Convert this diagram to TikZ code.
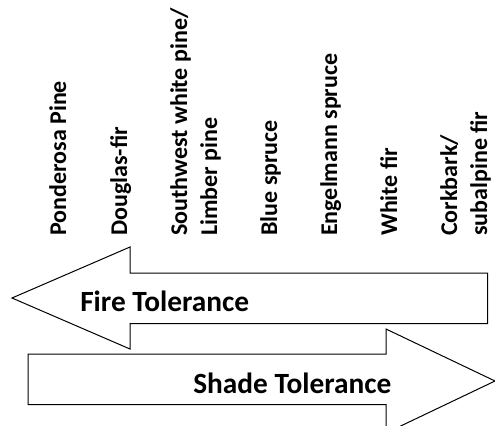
\documentclass[tikz,border=0pt]{standalone}
\usepackage{fontspec}
\setmainfont{Carlito}
\usepackage{tikz}

\begin{document}
\begin{tikzpicture}[x=0.75pt,y=0.75pt,yscale=-1,xscale=1,
    species/.style={rotate=90,anchor=base west,inner sep=0pt,align=left,font=\fontsize{18}{22.5}\selectfont\bfseries},
    tolerance/.style={anchor=base west,inner sep=0pt,font=\fontsize{22}{26}\selectfont\bfseries}]
    \useasboundingbox (0,0) rectangle (495,425);
    \clip (0,0) rectangle (495,425);
    
    %Shape: Left Arrow [id:fire]
    \draw  [line width=0.75pt,line join=miter]  (487.5,273) -- (130,273) -- (130,247) -- (12,298) -- (130,349) -- (130,323.5) -- (487.5,323.5) -- cycle ;
    %Shape: Right Arrow [id:shade]
    \draw  [line width=0.75pt,line join=miter]  (28,354) -- (386,354) -- (386,329) -- (495,381) -- (386,433) -- (386,404.5) -- (28,404.5) -- cycle ;
    
    % Text Node
    \draw (66,236) node (ponderosa) [species]    {Ponderosa Pine};
    % Text Node
    \draw (127,236) node (douglas) [species]    {Douglas-fir};
    % Text Node
    \draw (217,236) node (limber) [species]    {Southwest white pine/\\Limber pine};
    % Text Node
    \draw (277,236) node (blue) [species]    {Blue spruce};
    % Text Node
    \draw (337,236) node (engelmann) [species]    {Engelmann spruce};
    % Text Node
    \draw (397,236) node (white) [species]    {White fir};
    % Text Node
    \draw (487,236) node (corkbark) [species]    {Corkbark/\\subalpine fir};
    % Text Node
    \draw (80,311) node (fire) [tolerance]    {Fire Tolerance};
    % Text Node
    \draw (193,393) node (shade) [tolerance]    {Shade Tolerance};
    
\end{tikzpicture}
\end{document}
